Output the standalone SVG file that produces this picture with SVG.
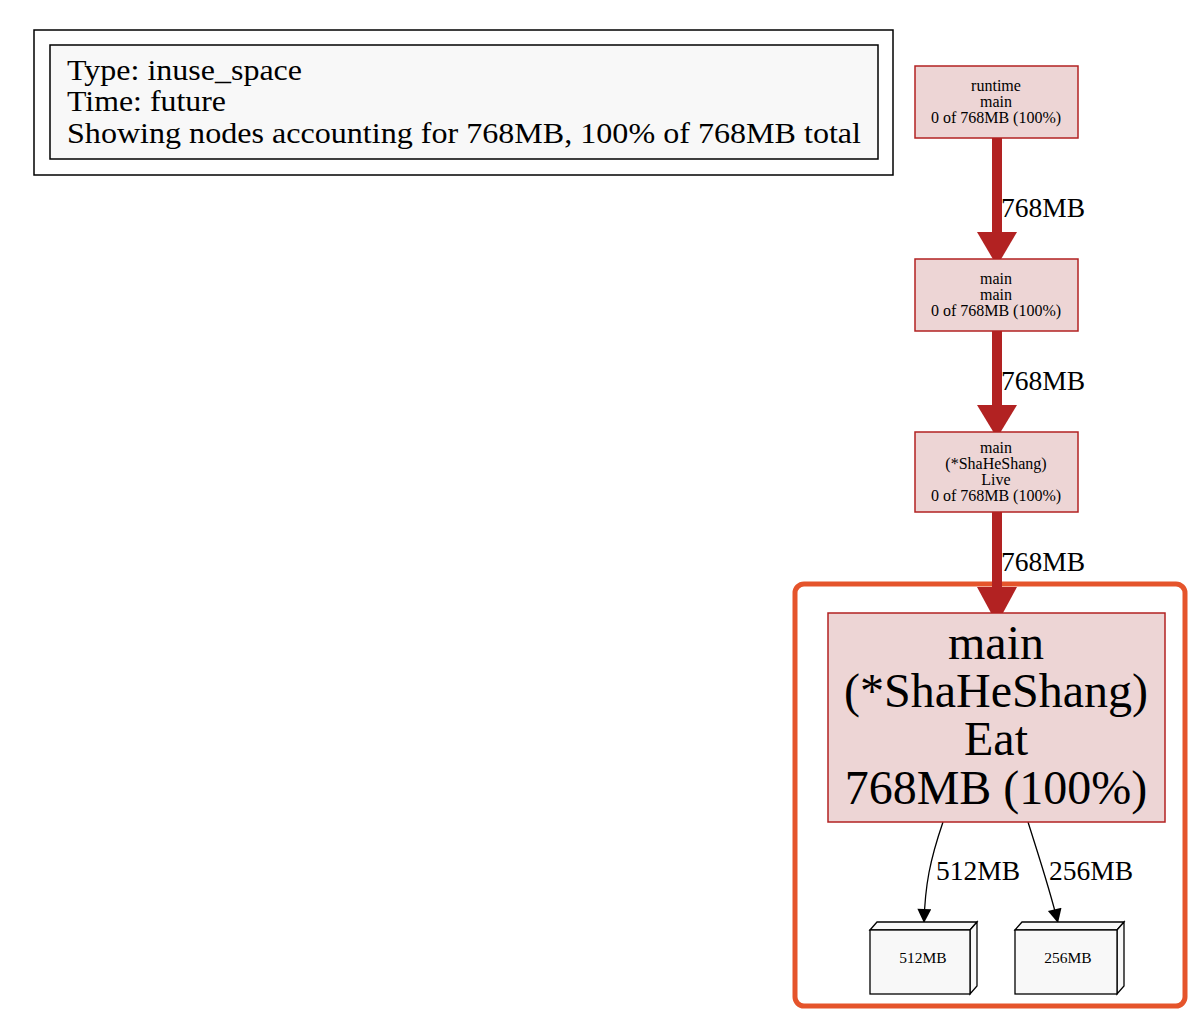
<svg xmlns="http://www.w3.org/2000/svg" width="1204" height="1032" viewBox="0 0 1204 1032">
<defs>
<style>
text{font-family:"Liberation Serif","Times New Roman",serif;fill:#000;text-anchor:middle}
.n rect{fill:#edd5d5;stroke:#b22222;stroke-width:1.5}
.s{font-size:16px}
.big{font-size:48px}
.el{font-size:27.5px;text-anchor:start}
.lg{font-size:29px;text-anchor:start}
.hot{stroke:#b22222;stroke-width:10;fill:none}
.thin{stroke:#000;stroke-width:1.3;fill:none}
.box{fill:#f8f8f8;stroke:#000;stroke-width:1.3}
</style>
<marker id="ah" viewBox="0 0 10 10" refX="10" refY="5" markerWidth="20" markerHeight="14" markerUnits="userSpaceOnUse" orient="auto"><path d="M0,0 L10,5 L0,10 z" fill="#000"/></marker>
</defs>
<rect width="1204" height="1032" fill="#fff"/>
<g id="legend">
<rect x="34" y="30" width="859" height="145" fill="#fff" stroke="#000" stroke-width="1.5"/>
<rect x="50" y="45" width="828" height="114" fill="#f8f8f8" stroke="#000" stroke-width="1.5"/>
<text class="lg" x="67" y="80" textLength="235" lengthAdjust="spacingAndGlyphs">Type: inuse_space</text>
<text class="lg" x="67" y="111" textLength="159" lengthAdjust="spacingAndGlyphs">Time: future</text>
<text class="lg" x="67" y="143" textLength="794" lengthAdjust="spacingAndGlyphs">Showing nodes accounting for 768MB, 100% of 768MB total</text>
</g>
<rect id="highlight" x="795" y="584" width="390" height="422" rx="9" fill="none" stroke="#e5542b" stroke-width="5"/>
<g id="connectors">
<line class="hot" x1="997" y1="138" x2="997" y2="234"/>
<path d="M977,232 L1017,232 L997,266 z" fill="#b22222"/>
<text class="el" x="1001" y="217">768MB</text>
<line class="hot" x1="997" y1="331" x2="997" y2="407"/>
<path d="M977,405 L1017,405 L997,438 z" fill="#b22222"/>
<text class="el" x="1001" y="390">768MB</text>
<line class="hot" x1="997" y1="512" x2="997" y2="590"/>
<path d="M977,587 L1017,587 L997,624 z" fill="#b22222"/>
<text class="el" x="1001" y="571">768MB</text>
<path class="thin" d="M943,822 C930,860 925,885 924,923" marker-end="url(#ah)"/>
<text class="el" x="936" y="880">512MB</text>
<path class="thin" d="M1028,822 C1040,860 1050,890 1058,923" marker-end="url(#ah)"/>
<text class="el" x="1049" y="880">256MB</text>
</g>
<g id="n1" class="n">
<rect x="915" y="66" width="163" height="72"/>
<text class="s" x="996" y="91">runtime</text>
<text class="s" x="996" y="107">main</text>
<text class="s" x="996" y="123">0 of 768MB (100%)</text>
</g>
<g id="n2" class="n">
<rect x="915" y="259" width="163" height="72"/>
<text class="s" x="996" y="284">main</text>
<text class="s" x="996" y="300">main</text>
<text class="s" x="996" y="316">0 of 768MB (100%)</text>
</g>
<g id="n3" class="n">
<rect x="915" y="432" width="163" height="80"/>
<text class="s" x="996" y="453">main</text>
<text class="s" x="996" y="469">(*ShaHeShang)</text>
<text class="s" x="996" y="485">Live</text>
<text class="s" x="996" y="501">0 of 768MB (100%)</text>
</g>
<g id="n4" class="n">
<rect x="828" y="613" width="337" height="209"/>
<text class="big" x="996" y="659">main</text>
<text class="big" x="996" y="707">(*ShaHeShang)</text>
<text class="big" x="996" y="755">Eat</text>
<text class="big" x="996" y="804">768MB (100%)</text>
</g>
<g id="b512">
<path class="box" d="M870,930 L877,922 L977,922 L970,930 z"/>
<path class="box" d="M970,930 L977,922 L977,986 L970,994 z"/>
<rect class="box" x="870" y="930" width="100" height="64"/>
<text class="s" x="923" y="963" style="font-size:15.5px">512MB</text>
</g>
<g id="b256">
<path class="box" d="M1015,930 L1022,922 L1124,922 L1117,930 z"/>
<path class="box" d="M1117,930 L1124,922 L1124,986 L1117,994 z"/>
<rect class="box" x="1015" y="930" width="102" height="64"/>
<text class="s" x="1068" y="963" style="font-size:15.5px">256MB</text>
</g>
</svg>
